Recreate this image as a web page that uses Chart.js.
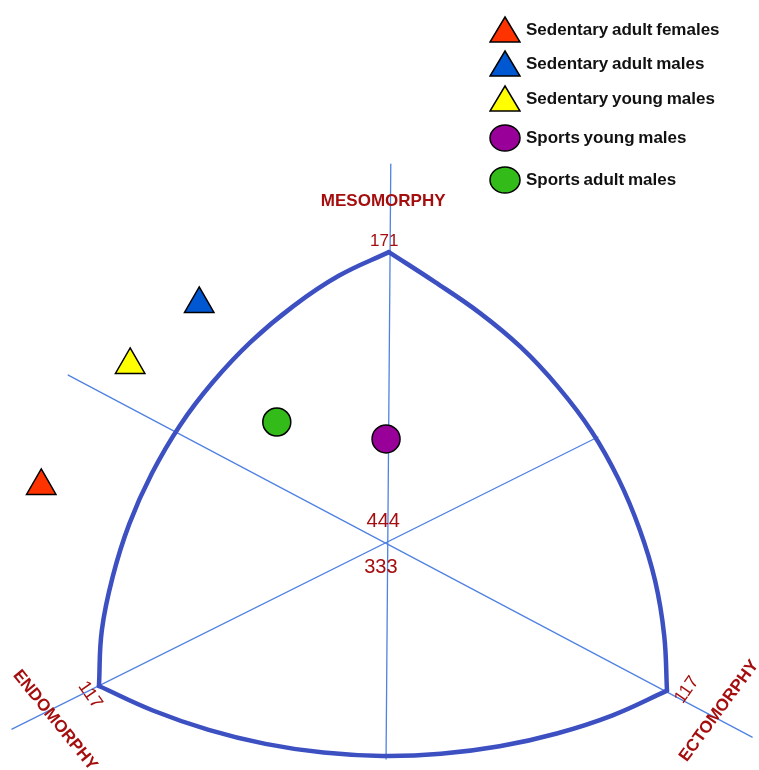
<!DOCTYPE html>
<html lang="en">
<head>
<meta charset="UTF-8">
<title>Somatochart</title>
<script src="https://cdn.jsdelivr.net/npm/chart.js"></script>
<style>
    body {
        margin: 0;
        background: #fff;
        font-family: Arial, 'Liberation Sans', sans-serif;
        overflow: hidden;
    }
    .wrap {
        position: relative;
        width: 759px;
        height: 770px;
    }
    #legend {
        position: absolute;
        left: 489px;
        top: 0;
    }
    .item {
        position: absolute;
        left: 0;
        height: 30px;
        display: flex;
        align-items: center;
        white-space: nowrap;
        font-weight: bold;
        font-size: 17px;
        color: #111;
        word-spacing: -1px;
    }
    .item svg {
        margin-right: 5px;
        flex: none;
    }
</style>
</head>
<body>
<div class="wrap">
    <canvas id="chart" width="759" height="770"></canvas>
    <div id="legend"></div>
</div>

<script>
// groups (somatochart X = ecto - endo, Y = 2*meso - endo - ecto)
const groups = ['Sedentary adult females', 'Sedentary adult males', 'Sedentary young males', 'Sports young males', 'Sports adult males'];
const groupX = [-7.31, -3.97, -5.43, -0.02, -2.33];
const groupY = [2.36, 9.88, 7.36, 4.30, 5.00];

// outline of the somatochart (three arcs through the 711 / 171 / 117 corners)
const leftArcX = [-6.09, -6.03, -5.80, -5.45, -4.97, -4.38, -3.68, -2.88, -1.98, -1.02, 0.04];
const leftArcY = [-5.91, -3.62, -1.40, 0.78, 2.88, 4.85, 6.65, 8.31, 9.79, 11.04, 12.02];
const rightArcX = [0.04, 1.01, 1.96, 2.83, 3.62, 4.32, 4.89, 5.34, 5.67, 5.86, 5.92];
const rightArcY = [12.02, 10.79, 9.51, 8.09, 6.44, 4.63, 2.66, 0.57, -1.57, -3.81, -6.10];
const bottomArcX = [-6.09, -4.95, -3.77, -2.57, -1.34, -0.10, 1.14, 2.38, 3.59, 4.77, 5.92];
const bottomArcY = [-5.91, -6.92, -7.72, -8.30, -8.66, -8.80, -8.71, -8.40, -7.87, -7.12, -6.10];

// the three axes through the 444 point
const mesoAxisX = [0.08, -0.02];
const mesoAxisY = [15.66, -8.93];
const ectoAxisX = [-6.74, 7.72];
const ectoAxisY = [6.94, -8.02];
const endoAxisX = [-7.93, 4.46];
const endoAxisY = [-7.69, 4.38];

// styles
const groupShape = ['triangle', 'triangle', 'triangle', 'circle', 'circle'];
const groupColor = ['#FF3300', '#0057D2', '#FFFF00', '#990099', '#33BB1A'];
const outlineColor = '#3C50C2';
const axisColor = '#4F82E3';
const labelColor = '#A50E0E';

// annotations on the chart
const notes = [
    { text: 'MESOMORPHY', x: -0.08, y: 14.13, angle: 0, font: 'bold 17px Arial, "Liberation Sans"' },
    { text: '171', x: -0.06, y: 12.48, angle: 0, font: '17px Arial, "Liberation Sans"' },
    { text: '444', x: -0.08, y: 0.87, angle: 0, font: '20px Arial, "Liberation Sans"' },
    { text: '333', x: -0.13, y: -1.03, angle: 0, font: '20px Arial, "Liberation Sans"' },
    { text: '117', x: -6.28, y: -6.28, angle: 55, font: '18px Arial, "Liberation Sans"' },
    { text: 'ENDOMORPHY', x: -7.02, y: -7.33, angle: 51, font: 'bold 17px Arial, "Liberation Sans"' },
    { text: '117', x: 6.34, y: -6.07, angle: -55, font: '18px Arial, "Liberation Sans"' },
    { text: 'ECTOMORPHY', x: 7.02, y: -6.94, angle: -53.5, font: 'bold 17px Arial, "Liberation Sans"' }
];

function pts(xs, ys) {
    return xs.map((v, i) => ({ x: v, y: ys[i] }));
}

function lineSet(xs, ys, color, width, tension) {
    return {
        data: pts(xs, ys),
        showLine: true,
        borderColor: color,
        borderWidth: width,
        pointRadius: 0,
        tension: tension,
        borderCapStyle: 'round',
        borderJoinStyle: 'round',
        clip: false
    };
}

const datasets = [];
groups.forEach((g, i) => {
    datasets.push({
        label: g,
        data: [{ x: groupX[i], y: groupY[i] }],
        pointStyle: groupShape[i],
        pointRadius: groupShape[i] === 'triangle' ? 17 : 14,
        backgroundColor: groupColor[i],
        borderColor: '#000',
        borderWidth: 1.5
    });
});
datasets.push(lineSet(leftArcX, leftArcY, outlineColor, 4.5, 0.4));
datasets.push(lineSet(rightArcX, rightArcY, outlineColor, 4.5, 0.4));
datasets.push(lineSet(bottomArcX, bottomArcY, outlineColor, 4.5, 0.4));
datasets.push(lineSet(mesoAxisX, mesoAxisY, axisColor, 1.3, 0));
datasets.push(lineSet(ectoAxisX, ectoAxisY, axisColor, 1.3, 0));
datasets.push(lineSet(endoAxisX, endoAxisY, axisColor, 1.3, 0));

const textPlugin = {
    id: 'somatoText',
    afterDatasetsDraw(chart) {
        const { ctx, scales: { x, y } } = chart;
        notes.forEach(n => {
            ctx.save();
            ctx.translate(x.getPixelForValue(n.x), y.getPixelForValue(n.y));
            ctx.rotate(n.angle * Math.PI / 180);
            ctx.font = n.font;
            ctx.fillStyle = labelColor;
            ctx.textAlign = 'center';
            ctx.textBaseline = 'middle';
            ctx.fillText(n.text, 0, 0);
            ctx.restore();
        });
    }
};

new Chart(document.getElementById('chart'), {
    type: 'scatter',
    data: { datasets: datasets },
    options: {
        responsive: false,
        animation: false,
        events: [],
        layout: { padding: 0, autoPadding: false },
        plugins: {
            legend: { display: false },
            tooltip: { enabled: false }
        },
        scales: {
            x: { type: 'linear', display: false, min: -8.182, max: 7.865 },
            y: { type: 'linear', display: false, min: -9.38, max: 22.438 }
        }
    },
    plugins: [textPlugin]
});

// legend on the top right
const legendRowY = [30, 64, 99, 138, 180];
const legend = document.getElementById('legend');
groups.forEach((g, i) => {
    const item = document.createElement('div');
    item.className = 'item';
    item.style.top = (legendRowY[i] - 15) + 'px';
    const shape = groupShape[i] === 'triangle'
        ? '<polygon points="16,2 31,27 1,27" fill="' + groupColor[i] + '" stroke="#000" stroke-width="1.5"/>'
        : '<ellipse cx="16" cy="15" rx="15" ry="13" fill="' + groupColor[i] + '" stroke="#000" stroke-width="1.5"/>';
    item.innerHTML = '<svg width="32" height="30" viewBox="0 0 32 30">' + shape + '</svg><span>' + g + '</span>';
    legend.appendChild(item);
});
</script>
</body>
</html>
